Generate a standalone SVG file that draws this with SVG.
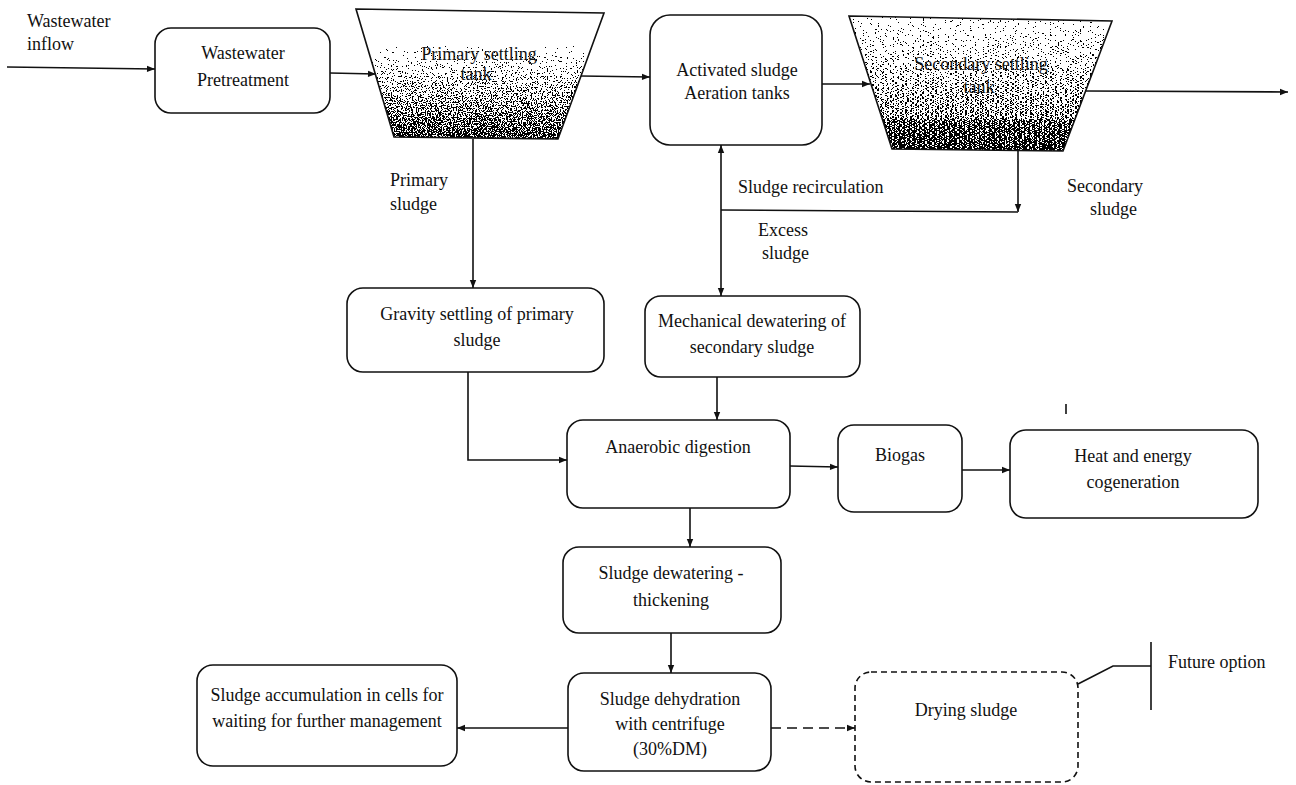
<svg xmlns="http://www.w3.org/2000/svg" width="1296" height="785" viewBox="0 0 1296 785">
<style>
  .box{fill:#fff;stroke:#111;stroke-width:1.6}
  .dbox{fill:#fff;stroke:#111;stroke-width:1.6;stroke-dasharray:6 4}
  .tank{fill:none;stroke:#111;stroke-width:1.6}
  .t{font-family:"Liberation Serif","Times New Roman",serif;font-size:18px;fill:#111}
  .c{text-anchor:middle}
  .ln{fill:none;stroke:#111;stroke-width:1.6}
  .dl{fill:none;stroke:#111;stroke-width:1.6;stroke-dasharray:10 6}
</style>
<defs>
  <marker id="ah" viewBox="0 0 10 10" refX="10" refY="5" markerWidth="9" markerHeight="8" markerUnits="userSpaceOnUse" orient="auto-start-reverse">
    <path d="M0,1 L10,5 L0,9 z" fill="#111"/>
  </marker>
  <linearGradient id="g1" x1="0" y1="0" x2="0" y2="1">
    <stop offset="0" stop-color="#fff"/>
    <stop offset="0.25" stop-color="#fff"/>
    <stop offset="0.3" stop-color="#b3b3b3"/>
    <stop offset="0.45" stop-color="#959595"/>
    <stop offset="0.65" stop-color="#727272"/>
    <stop offset="0.85" stop-color="#545454"/>
    <stop offset="1" stop-color="#3d3d3d"/>
  </linearGradient>
  <linearGradient id="g2" x1="0" y1="0" x2="0" y2="1">
    <stop offset="0" stop-color="#a6a6a6"/>
    <stop offset="0.3" stop-color="#8a8a8a"/>
    <stop offset="0.55" stop-color="#707070"/>
    <stop offset="0.8" stop-color="#565656"/>
    <stop offset="1" stop-color="#404040"/>
  </linearGradient>
  <filter id="dith1" x="0" y="0" width="1" height="1" color-interpolation-filters="sRGB">
    <feTurbulence type="fractalNoise" baseFrequency="0.8" numOctaves="2" seed="4" result="nz"/>
    <feColorMatrix in="nz" type="matrix" values="1 0 0 0 0  1 0 0 0 0  1 0 0 0 0  0 0 0 0 1" result="ng"/>
    <feComposite in="SourceGraphic" in2="ng" operator="arithmetic" k1="0" k2="1" k3="1.5" k4="-0.6" result="s"/>
    <feComponentTransfer in="s" result="b">
      <feFuncR type="discrete" tableValues="0 1"/>
      <feFuncG type="discrete" tableValues="0 1"/>
      <feFuncB type="discrete" tableValues="0 1"/>
    </feComponentTransfer>
    <feComposite in="b" in2="SourceAlpha" operator="in"/>
  </filter>
  <filter id="dith2" x="0" y="0" width="1" height="1" color-interpolation-filters="sRGB">
    <feTurbulence type="fractalNoise" baseFrequency="0.4 1.0" numOctaves="2" seed="9" result="nz"/>
    <feColorMatrix in="nz" type="matrix" values="1 0 0 0 0  1 0 0 0 0  1 0 0 0 0  0 0 0 0 1" result="ng"/>
    <feComposite in="SourceGraphic" in2="ng" operator="arithmetic" k1="0" k2="1" k3="1.5" k4="-0.6" result="s"/>
    <feComponentTransfer in="s" result="b">
      <feFuncR type="discrete" tableValues="0 1"/>
      <feFuncG type="discrete" tableValues="0 1"/>
      <feFuncB type="discrete" tableValues="0 1"/>
    </feComponentTransfer>
    <feComposite in="b" in2="SourceAlpha" operator="in"/>
  </filter>
</defs>

<g id="connectors">
  <path class="ln" d="M7,67 L155,69" marker-end="url(#ah)"/>
  <path class="ln" d="M330,73 L376,74" marker-end="url(#ah)"/>
  <path class="ln" d="M581,76 L650,77" marker-end="url(#ah)"/>
  <path class="ln" d="M822,84 L870,84" marker-end="url(#ah)"/>
  <path class="ln" d="M1086,91 L1288,92" marker-end="url(#ah)"/>
  <path class="ln" d="M473,139 L473,288" marker-end="url(#ah)"/>
  <path class="ln" d="M721,296 L721,145" marker-start="url(#ah)" marker-end="url(#ah)"/>
  <path class="ln" d="M721,210 L1018,212"/>
  <path class="ln" d="M1018,151 L1018,212" marker-end="url(#ah)"/>
  <path class="ln" d="M468,372 L468,460 L567,460" marker-end="url(#ah)"/>
  <path class="ln" d="M717,377 L717,420" marker-end="url(#ah)"/>
  <path class="ln" d="M790,466 L838,467" marker-end="url(#ah)"/>
  <path class="ln" d="M962,470 L1010,470" marker-end="url(#ah)"/>
  <path class="ln" d="M690,508 L690,547" marker-end="url(#ah)"/>
  <path class="ln" d="M671,633 L671,673" marker-end="url(#ah)"/>
  <path class="ln" d="M568,728 L457,728" marker-end="url(#ah)"/>
  <path class="dl" d="M771,728 L855,728" marker-end="url(#ah)"/>
  <path class="ln" d="M1078,684 L1113,666 L1151,666"/>
  <path class="ln" d="M1151,642 L1151,710"/>
  <path class="ln" d="M1066,404 L1066,414"/>
</g>

<g id="labels">
  <text class="t" x="27" y="27">Wastewater</text>
  <text class="t" x="27" y="50">inflow</text>
  <text class="t" x="390" y="186">Primary</text>
  <text class="t" x="390" y="210">sludge</text>
  <text class="t" x="738" y="193">Sludge recirculation</text>
  <text class="t" x="758" y="236">Excess</text>
  <text class="t" x="762" y="259">sludge</text>
  <text class="t" x="1067" y="192">Secondary</text>
  <text class="t" x="1090" y="215">sludge</text>
  <text class="t" x="1168" y="668">Future option</text>
</g>

<g id="pretreatment">
  <rect class="box" x="155" y="28" width="175" height="85" rx="16"/>
  <text class="t c" x="243" y="59">Wastewater</text>
  <text class="t c" x="243" y="86">Pretreatment</text>
</g>

<g id="primary-tank">
  <polygon fill="#fff" points="356,9 604,13 558,139 394,137"/>
  <polygon fill="url(#g1)" filter="url(#dith1)" points="356,9 604,13 558,139 394,137"/>
  <polygon class="tank" points="356,9 604,13 558,139 394,137"/>
  <text class="t c" x="479" y="60">Primary settling</text>
  <text class="t c" x="476" y="80">tank</text>
</g>

<g id="activated-sludge">
  <rect class="box" x="650" y="15" width="172" height="130" rx="20"/>
  <text class="t c" x="737" y="76">Activated sludge</text>
  <text class="t c" x="737" y="99">Aeration tanks</text>
</g>

<g id="secondary-tank">
  <polygon fill="#fff" points="849,16 1112,21 1063,151 892,149"/>
  <polygon fill="url(#g2)" filter="url(#dith2)" points="849,16 1112,21 1063,151 892,149"/>
  <polygon class="tank" points="849,16 1112,21 1063,151 892,149"/>
  <text class="t c" x="981" y="70">Secondary settling</text>
  <text class="t c" x="979" y="93">tank</text>
</g>

<g id="gravity-settling">
  <rect class="box" x="347" y="288" width="257" height="84" rx="16"/>
  <text class="t c" x="477" y="320">Gravity settling of primary</text>
  <text class="t c" x="477" y="346">sludge</text>
</g>

<g id="mechanical-dewatering">
  <rect class="box" x="645" y="296" width="215" height="81" rx="16"/>
  <text class="t c" x="752" y="327">Mechanical dewatering of</text>
  <text class="t c" x="752" y="353">secondary sludge</text>
</g>

<g id="anaerobic-digestion">
  <rect class="box" x="567" y="420" width="223" height="88" rx="16"/>
  <text class="t c" x="678" y="453">Anaerobic digestion</text>
</g>

<g id="biogas">
  <rect class="box" x="838" y="425" width="124" height="87" rx="16"/>
  <text class="t c" x="900" y="461">Biogas</text>
</g>

<g id="cogeneration">
  <rect class="box" x="1010" y="430" width="248" height="88" rx="16"/>
  <text class="t c" x="1133" y="462">Heat and energy</text>
  <text class="t c" x="1133" y="488">cogeneration</text>
</g>

<g id="dewatering-thickening">
  <rect class="box" x="563" y="547" width="218" height="86" rx="16"/>
  <text class="t c" x="671" y="579">Sludge dewatering -</text>
  <text class="t c" x="671" y="606">thickening</text>
</g>

<g id="dehydration">
  <rect class="box" x="568" y="673" width="203" height="98" rx="16"/>
  <text class="t c" x="670" y="705">Sludge dehydration</text>
  <text class="t c" x="670" y="730">with centrifuge</text>
  <text class="t c" x="670" y="755">(30%DM)</text>
</g>

<g id="accumulation">
  <rect class="box" x="197" y="665" width="260" height="101" rx="16"/>
  <text class="t c" x="327" y="701">Sludge accumulation in cells for</text>
  <text class="t c" x="327" y="727">waiting for further management</text>
</g>

<g id="drying-sludge">
  <rect class="dbox" x="855" y="672" width="223" height="110" rx="16"/>
  <text class="t c" x="966" y="716">Drying sludge</text>
</g>
</svg>
